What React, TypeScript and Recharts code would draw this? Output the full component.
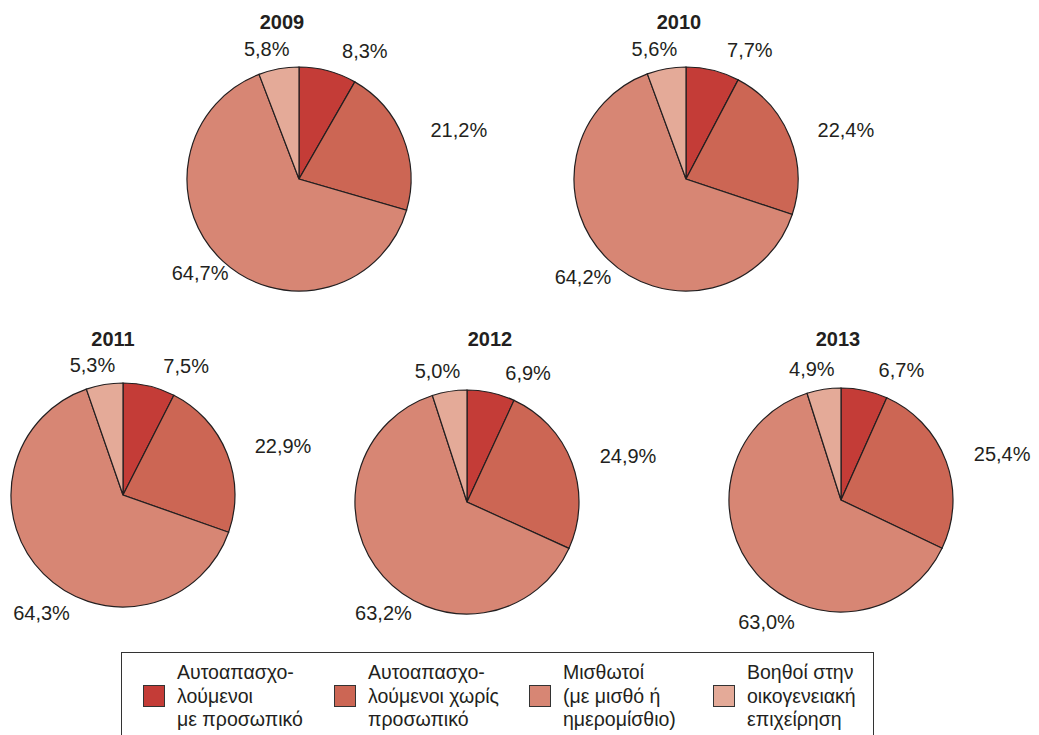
import React from "react";
import { PieChart, Pie, Cell } from "recharts";

const years = ["2009", "2010", "2011", "2012", "2013"];
const categories = [
  "Αυτοαπασχο-\nλούμενοι\nμε προσωπικό",
  "Αυτοαπασχο-\nλούμενοι χωρίς\nπροσωπικό",
  "Μισθωτοί\n(με μισθό ή\nημερομίσθιο)",
  "Βοηθοί στην\nοικογενειακή\nεπιχείρηση",
];
const selfEmployedWithStaff = [8.3, 7.7, 7.5, 6.9, 6.7];
const selfEmployedNoStaff = [21.2, 22.4, 22.9, 24.9, 25.4];
const employees = [64.7, 64.2, 64.3, 63.2, 63.0];
const familyHelpers = [5.8, 5.6, 5.3, 5.0, 4.9];

const COLORS = ["#c43c37", "#cc6654", "#d78674", "#e4aa98"];
const FONT = '"Liberation Sans", Arial, Helvetica, sans-serif';
const RADIUS = 112;

// where each pie sits on the page, and where its title goes
const layout = [
  { cx: 299, cy: 179, tx: 282, ty: 22, big: [-23, 12] },
  { cx: 686, cy: 179, tx: 679, ty: 22, big: [-25, 18] },
  { cx: 123, cy: 495, tx: 113, ty: 339, big: [-2, 39] },
  { cx: 467, cy: 502, tx: 490, ty: 339, big: [0, 36] },
  { cx: 841, cy: 500, tx: 838, ty: 339, big: [10, 48] },
];

// label offsets from the arc point at the slice's mid angle
const labelOffsets = [
  [37, -20],
  [56, -7],
  null,
  [-12, -20],
];

const legendX = [21, 212, 407, 591];

const RAD = Math.PI / 180;

function makeLabel(yearIdx: number) {
  return (props: any) => {
    const { cx, cy, midAngle, outerRadius, index, value } = props;
    const ax = cx + outerRadius * Math.cos(-midAngle * RAD);
    const ay = cy + outerRadius * Math.sin(-midAngle * RAD);
    const off = labelOffsets[index] ?? layout[yearIdx].big;
    return (
      <text
        x={ax + off[0]}
        y={ay + off[1]}
        textAnchor="middle"
        dominantBaseline="central"
        fontSize={20}
        fontFamily={FONT}
        fill="#231f20"
      >
        {value.toFixed(1).replace(".", ",") + "%"}
      </text>
    );
  };
}

export default function App() {
  const pies = years.map((year, i) => ({
    year,
    data: [
      { name: categories[0], value: selfEmployedWithStaff[i] },
      { name: categories[1], value: selfEmployedNoStaff[i] },
      { name: categories[2], value: employees[i] },
      { name: categories[3], value: familyHelpers[i] },
    ],
  }));

  return (
    <div style={{ position: "relative", width: 1039, height: 735, background: "#fff", fontFamily: FONT }}>
      <style>{"body{margin:0}"}</style>
      <PieChart
        width={1039}
        height={735}
        margin={{ top: 0, right: 0, bottom: 0, left: 0 }}
        style={{ position: "absolute", left: 0, top: 0 }}
      >
        {pies.map((p, i) => (
          <Pie
            key={p.year}
            data={p.data}
            dataKey="value"
            nameKey="name"
            cx={layout[i].cx}
            cy={layout[i].cy}
            outerRadius={RADIUS}
            startAngle={90}
            endAngle={-270}
            stroke="#231f20"
            strokeWidth={1.2}
            label={makeLabel(i)}
            labelLine={false}
            isAnimationActive={false}
          >
            {p.data.map((d, j) => (
              <Cell key={d.name} fill={COLORS[j]} />
            ))}
          </Pie>
        ))}
      </PieChart>

      {pies.map((p, i) => (
        <div
          key={"t" + p.year}
          style={{
            position: "absolute",
            left: layout[i].tx - 40,
            top: layout[i].ty - 12,
            width: 80,
            height: 24,
            lineHeight: "24px",
            textAlign: "center",
            fontWeight: "bold",
            fontSize: 20,
            color: "#231f20",
          }}
        >
          {p.year}
        </div>
      ))}

      <div
        style={{
          position: "absolute",
          left: 121,
          top: 652,
          width: 753,
          height: 100,
          border: "1.2px solid #333",
          boxSizing: "border-box",
        }}
      >
        {categories.map((c, j) => (
          <div
            key={c}
            style={{ position: "absolute", left: legendX[j], top: 8, display: "flex", alignItems: "center" }}
          >
            <div
              style={{
                width: 22,
                height: 22,
                background: COLORS[j],
                border: "1.2px solid #333",
                boxSizing: "border-box",
                marginRight: 12,
              }}
            />
            <div style={{ fontSize: 19.5, lineHeight: "23.5px", color: "#231f20", whiteSpace: "pre" }}>{c}</div>
          </div>
        ))}
      </div>
    </div>
  );
}
